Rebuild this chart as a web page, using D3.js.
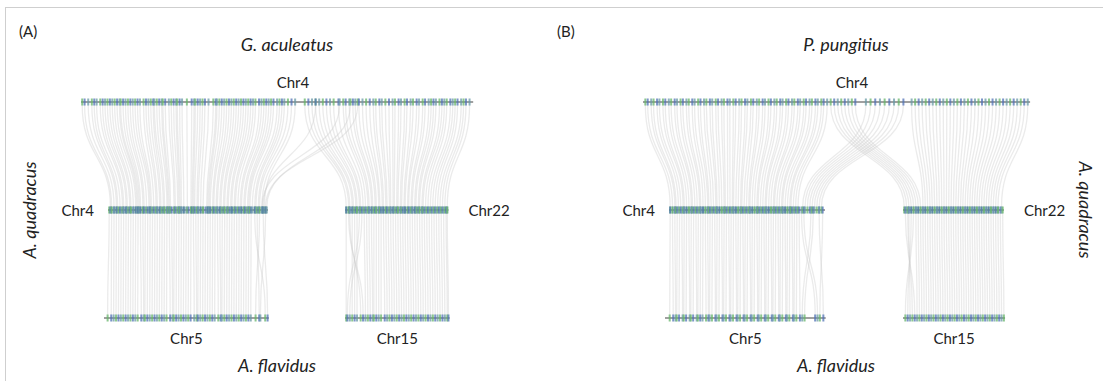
<!DOCTYPE html>
<html>
<head>
<meta charset="utf-8">
<script src="https://cdn.jsdelivr.net/npm/d3@7"></script>
<style>
  body { margin: 0; background: #fff; }
  text { font-family: Lato, "Open Sans", sans-serif; fill: #222; }
</style>
</head>
<body>
<div id="chart"></div>
<script>
// species / chromosome labels
const panelTags = ["(A)", "(B)"];
const topSpecies = ["G. aculeatus", "P. pungitius"];
const midSpecies = "A. quadracus";
const bottomSpecies = "A. flavidus";
const topChrName = "Chr4";
const midChrNames = ["Chr4", "Chr22"];
const bottomChrNames = ["Chr5", "Chr15"];

// chromosome lengths (Mb)
const topLengths = [32.6, 33.0];
const midLengths = [13.3, 8.6];
const bottomLengths = [13.7, 8.7];

// anchor gene pairs, [top Mb, A. quadracus Mb]
const linksA_top_q4 = [[0.1,0.2],[0.3,0.3],[0.6,0.5],[0.9,0.7],[1.1,0.8],[1.3,1.0],[1.6,1.2],[1.8,1.3],[2.0,1.5],[2.2,1.6],[2.4,1.8],[2.6,1.9],[2.8,2.1],[3.0,2.3],[3.2,2.4],[3.3,2.5],[3.5,2.6],[3.7,2.7],[3.9,2.9],[4.1,3.0],[4.3,3.2],[4.5,3.4],[4.7,3.5],[4.9,3.6],[5.2,3.8],[5.4,4.0],[5.6,4.1],[5.8,4.3],[6.0,4.4],[6.1,4.6],[6.3,4.7],[6.5,4.9],[6.7,5.0],[6.8,5.1],[7.0,5.2],[7.3,5.5],[7.5,5.6],[7.7,5.8],[7.9,5.9],[8.0,6.0],[8.2,6.1],[8.4,6.3],[8.8,6.6],[9.2,6.9],[9.4,7.0],[9.5,7.1],[9.7,7.2],[9.9,7.4],[10.1,7.5],[10.3,7.7],[10.6,7.9],[11.0,8.2],[11.2,8.3],[11.3,8.4],[11.5,8.5],[11.7,8.7],[11.9,8.8],[12.1,9.0],[12.3,9.1],[12.5,9.3],[12.7,9.4],[12.9,9.6],[13.1,9.7],[13.3,9.9],[13.5,10.0],[13.7,10.2],[13.9,10.3],[14.1,10.5],[14.3,10.6],[14.5,10.8],[14.8,11.0],[15.0,11.1],[15.2,11.3],[15.4,11.4],[15.6,11.6],[15.8,11.7],[16.0,11.8],[16.3,12.0],[16.5,12.2],[16.7,12.3],[16.9,12.5],[17.2,12.6],[17.5,12.8],[17.8,13.0],[19.5,12.9],[21.5,12.8],[22.4,13.2],[23.0,13.1]];
const linksA_top_q22 = [[18.6,0.1],[18.9,0.3],[19.2,0.4],[19.5,0.6],[19.8,0.7],[20.1,0.9],[20.4,1.0],[20.7,1.2],[21.0,1.3],[21.4,1.5],[21.8,1.7],[22.0,1.9],[22.3,2.0],[22.6,2.2],[22.8,2.3],[23.1,2.5],[23.4,2.6],[23.7,2.8],[24.0,2.9],[24.3,3.1],[24.5,3.2],[24.8,3.4],[25.0,3.5],[25.3,3.7],[25.6,3.8],[25.9,4.0],[26.1,4.1],[26.4,4.3],[26.6,4.4],[26.9,4.6],[27.1,4.7],[27.4,4.9],[27.6,5.0],[27.9,5.2],[28.1,5.3],[28.4,5.5],[28.6,5.6],[28.9,5.8],[29.1,5.9],[29.3,6.1],[29.5,6.2],[29.8,6.4],[30.0,6.5],[30.2,6.7],[30.4,6.9],[30.7,7.1],[30.9,7.3],[31.1,7.5],[31.3,7.7],[31.6,7.9],[31.8,8.1],[32.0,8.3],[32.3,8.5]];
const linksB_top_q4 = [[0.2,0.1],[0.4,0.3],[0.7,0.5],[0.9,0.6],[1.2,0.8],[1.4,1.0],[1.7,1.2],[1.9,1.3],[2.2,1.5],[2.4,1.7],[2.7,1.9],[2.9,2.0],[3.2,2.2],[3.4,2.4],[3.7,2.6],[3.9,2.7],[4.2,2.9],[4.4,3.1],[4.7,3.3],[4.9,3.4],[5.2,3.6],[5.4,3.8],[5.7,4.0],[5.9,4.1],[6.2,4.3],[6.4,4.5],[6.7,4.7],[6.9,4.8],[7.2,5.0],[7.4,5.2],[7.7,5.4],[7.9,5.5],[8.2,5.7],[8.4,5.9],[8.7,6.1],[8.9,6.2],[9.2,6.4],[9.4,6.6],[9.7,6.8],[9.9,6.9],[10.2,7.1],[10.4,7.3],[10.7,7.5],[10.9,7.6],[11.2,7.8],[11.4,8.0],[11.7,8.2],[11.9,8.3],[12.2,8.5],[12.4,8.7],[12.7,8.9],[12.9,9.0],[13.2,9.2],[13.4,9.4],[13.7,9.6],[13.9,9.7],[14.2,9.9],[14.4,10.1],[14.7,10.3],[14.9,10.4],[15.2,10.6],[15.4,10.8],[15.7,11.0],[19.0,11.4],[19.4,11.6],[19.8,11.8],[20.2,12.0],[20.6,12.2],[21.0,12.4],[21.4,12.6],[21.8,12.8],[22.2,13.0]];
const linksB_top_q22 = [[16.0,0.1],[16.3,0.3],[16.6,0.5],[16.9,0.7],[17.2,0.9],[17.5,1.1],[17.8,1.3],[18.1,1.5],[22.9,1.7],[23.2,1.9],[23.5,2.1],[23.8,2.3],[24.1,2.5],[24.4,2.7],[24.7,2.9],[25.0,3.1],[25.3,3.3],[25.6,3.5],[25.9,3.7],[26.2,3.9],[26.5,4.1],[26.8,4.3],[27.1,4.5],[27.4,4.7],[27.7,4.9],[28.0,5.1],[28.3,5.3],[28.6,5.5],[28.9,5.7],[29.2,5.9],[29.5,6.1],[29.8,6.3],[30.1,6.5],[30.4,6.7],[30.7,6.9],[31.0,7.1],[31.3,7.3],[31.6,7.5],[31.9,7.7],[32.2,7.9],[32.5,8.1],[32.8,8.4]];

// anchor gene pairs, [A. quadracus Mb, A. flavidus Mb]
const linksA_q4_f5 = [[0.1,0.3],[0.3,0.6],[0.5,0.8],[0.7,1.0],[0.9,1.2],[1.1,1.4],[1.3,1.6],[1.5,1.8],[1.7,2.0],[1.9,2.2],[2.1,2.4],[2.3,2.6],[2.5,2.8],[2.7,3.1],[2.9,3.3],[3.1,3.4],[3.3,3.6],[3.5,3.8],[3.7,4.0],[3.9,4.2],[4.1,4.4],[4.3,4.6],[4.5,4.8],[4.7,5.0],[4.9,5.2],[5.1,5.5],[5.3,5.7],[5.5,5.8],[5.7,6.0],[5.9,6.2],[6.1,6.4],[6.3,6.6],[6.5,6.8],[6.7,7.0],[6.9,7.2],[7.1,7.5],[7.3,7.7],[7.5,7.8],[7.7,8.0],[7.9,8.2],[8.1,8.4],[8.3,8.6],[8.5,8.8],[8.7,9.0],[8.9,9.2],[9.1,9.5],[9.3,9.7],[9.5,9.8],[9.7,10.0],[9.9,10.2],[10.1,10.4],[10.3,10.6],[10.5,10.8],[10.7,11.0],[10.9,11.2],[11.1,11.4],[11.3,11.6],[11.5,11.8],[11.7,12.0],[11.9,12.2],[12.2,13.4],[12.4,12.9],[12.6,12.6],[12.9,13.6],[13.1,13.0]];
const linksA_q22_f15 = [[0.1,0.1],[0.3,1.5],[0.4,1.3],[0.6,0.6],[0.8,0.8],[1.0,1.0],[1.2,0.2],[1.4,0.4],[1.6,1.7],[1.8,1.9],[2.0,2.1],[2.2,2.3],[2.4,2.4],[2.6,2.6],[2.8,2.8],[3.0,3.0],[3.2,3.3],[3.4,3.5],[3.6,3.7],[3.8,3.9],[4.0,4.1],[4.2,4.3],[4.4,4.5],[4.6,4.7],[4.8,4.9],[5.0,5.1],[5.2,5.3],[5.4,5.5],[5.6,5.7],[5.8,5.9],[6.0,6.1],[6.2,6.3],[6.4,6.5],[6.6,6.7],[6.8,6.9],[7.0,7.1],[7.2,7.3],[7.4,7.5],[7.6,7.7],[7.8,7.9],[8.0,8.1],[8.2,8.3],[8.4,8.5],[8.5,8.6]];
const linksB_q4_f5 = [[0.1,0.4],[0.3,0.7],[0.5,0.9],[0.7,1.0],[0.9,1.2],[1.1,1.5],[1.3,1.6],[1.5,1.8],[1.7,2.1],[1.9,2.2],[2.1,2.4],[2.3,2.7],[2.5,2.8],[2.7,3.0],[2.9,3.2],[3.1,3.5],[3.3,3.7],[3.5,3.8],[3.7,4.0],[3.9,4.3],[4.1,4.4],[4.3,4.6],[4.5,4.9],[4.7,5.0],[4.9,5.2],[5.1,5.5],[5.3,5.6],[5.5,5.8],[5.7,6.1],[5.9,6.2],[6.1,6.4],[6.3,6.7],[6.5,6.8],[6.7,7.0],[6.9,7.3],[7.1,7.4],[7.3,7.6],[7.5,7.9],[7.7,8.0],[7.9,8.2],[8.1,8.5],[8.3,8.6],[8.5,8.8],[8.7,9.1],[8.9,9.2],[9.1,9.4],[9.3,9.7],[9.5,9.8],[9.7,10.0],[9.9,10.3],[10.1,10.4],[10.3,10.6],[10.5,10.9],[10.7,11.0],[10.9,11.2],[11.1,11.5],[11.3,12.8],[11.5,13.0],[12.1,11.7],[12.3,11.9],[12.8,13.5],[13.1,13.2]];
const linksB_q22_f15 = [[0.2,1.0],[0.4,0.8],[0.5,0.6],[0.7,0.4],[0.9,0.2],[1.1,1.2],[1.3,1.4],[1.5,1.6],[1.7,1.8],[1.9,2.0],[2.1,2.2],[2.3,2.4],[2.5,2.6],[2.7,2.8],[2.9,3.0],[3.1,3.2],[3.3,3.4],[3.5,3.6],[3.7,3.8],[3.9,4.0],[4.1,4.2],[4.3,4.4],[4.5,4.6],[4.7,4.8],[4.9,5.0],[5.1,5.2],[5.3,5.4],[5.5,5.6],[5.7,5.8],[5.9,6.0],[6.1,6.2],[6.3,6.4],[6.5,6.6],[6.7,6.8],[6.9,7.0],[7.1,7.2],[7.3,7.4],[7.5,7.6],[7.7,7.8],[7.9,8.0],[8.1,8.2],[8.3,8.4],[8.5,8.6]];

const width = 1103, height = 381;
const yTop = 102, yMid = 210, yBot = 318;

// layout per panel: pixel start of each chromosome and px per Mb
const layout = [
  { k: 12.03, top: 81,  mid: [108, 345], bot: [104, 345], cx: 277,
    links: [linksA_top_q4, linksA_top_q22], links2: [linksA_q4_f5, linksA_q22_f15] },
  { k: 11.73, top: 643, mid: [669, 903], bot: [665, 903], cx: 836,
    links: [linksB_top_q4, linksB_top_q22], links2: [linksB_q4_f5, linksB_q22_f15] }
];

const svg = d3.select('#chart').append('svg')
  .attr('width', width)
  .attr('height', height);

// frame
svg.append('rect')
  .attr('x', 5.5).attr('y', 7.5)
  .attr('width', 1120).attr('height', 400)
  .attr('fill', 'none')
  .attr('stroke', '#cfcfcf');

const geneColors = ['#66b46a', '#5071b6', '#6a9aa6'];
const link = d3.linkVertical().x(d => d[0]).y(d => d[1]);

function drawChrom(g, scale, y, positions) {
  g.append('line')
    .attr('x1', scale.range()[0]).attr('x2', scale.range()[1])
    .attr('y1', y).attr('y2', y)
    .attr('stroke', '#808080')
    .attr('stroke-width', 1.5);
  g.selectAll(null)
    .data(positions)
    .enter().append('rect')
    .attr('x', d => scale(d) - 1)
    .attr('y', y - 3.5)
    .attr('width', 2)
    .attr('height', 7)
    .attr('fill', (d, i) => geneColors[i % 3])
    .attr('opacity', 0.75);
}

layout.forEach((p, pi) => {
  const g = svg.append('g');
  const xTop = d3.scaleLinear().domain([0, topLengths[pi]]).range([p.top, p.top + topLengths[pi] * p.k]);
  const xMid = midLengths.map((len, i) => d3.scaleLinear().domain([0, len]).range([p.mid[i], p.mid[i] + len * p.k]));
  const xBot = bottomLengths.map((len, i) => d3.scaleLinear().domain([0, len]).range([p.bot[i], p.bot[i] + len * p.k]));

  // links
  const lg = g.append('g')
    .attr('fill', 'none')
    .attr('stroke', '#cdcdcd')
    .attr('stroke-opacity', 0.4)
    .attr('stroke-width', 1.3);
  p.links.forEach((set, i) => {
    lg.selectAll(null).data(set).enter().append('path')
      .attr('d', d => link({ source: [xTop(d[0]), yTop + 3], target: [xMid[i](d[1]), yMid - 3] }));
  });
  p.links2.forEach((set, i) => {
    lg.selectAll(null).data(set).enter().append('path')
      .attr('d', d => link({ source: [xMid[i](d[0]), yMid + 3], target: [xBot[i](d[1]), yBot - 3] }));
  });

  // chromosomes with gene marks
  const topGenes = p.links[0].map(d => d[0]).concat(p.links[1].map(d => d[0])).sort((a, b) => a - b);
  drawChrom(g, xTop, yTop, topGenes);
  xMid.forEach((s, i) => {
    const genes = p.links[i].map(d => d[1]).concat(p.links2[i].map(d => d[0])).sort((a, b) => a - b);
    drawChrom(g, s, yMid, genes);
  });
  xBot.forEach((s, i) => {
    drawChrom(g, s, yBot, p.links2[i].map(d => d[1]).sort((a, b) => a - b));
  });

  // labels
  g.append('text').attr('x', pi === 0 ? 19 : 557).attr('y', 37)
    .style('font-size', '15px').text(panelTags[pi]);
  g.append('text').attr('x', p.cx + 10).attr('y', 51)
    .attr('text-anchor', 'middle').style('font-size', '18px').style('font-style', 'italic')
    .text(topSpecies[pi]);
  g.append('text').attr('x', p.cx + 16).attr('y', 88)
    .attr('text-anchor', 'middle').style('font-size', '15px').text(topChrName);

  const xr0 = xMid[0].range(), xr1 = xMid[1].range();
  g.append('text').attr('x', xr0[0] - 14).attr('y', yMid + 6)
    .attr('text-anchor', 'end').style('font-size', '15px').text(midChrNames[0]);
  g.append('text').attr('x', xr1[1] + 20).attr('y', yMid + 6)
    .attr('text-anchor', 'start').style('font-size', '15px').text(midChrNames[1]);

  xBot.forEach((s, i) => {
    const r = s.range();
    g.append('text').attr('x', (r[0] + r[1]) / 2).attr('y', yBot + 26)
      .attr('text-anchor', 'middle').style('font-size', '15px').text(bottomChrNames[i]);
  });
  g.append('text').attr('x', p.cx).attr('y', 372)
    .attr('text-anchor', 'middle').style('font-size', '18px').style('font-style', 'italic')
    .text(bottomSpecies);

  const qx = pi === 0 ? 30 : 1085;
  g.append('text')
    .attr('transform', `translate(${qx},${yMid}) rotate(${pi === 0 ? -90 : 90})`)
    .attr('text-anchor', 'middle').attr('dy', '0.35em')
    .style('font-size', '18px').style('font-style', 'italic')
    .text(midSpecies);
});
</script>
</body>
</html>
